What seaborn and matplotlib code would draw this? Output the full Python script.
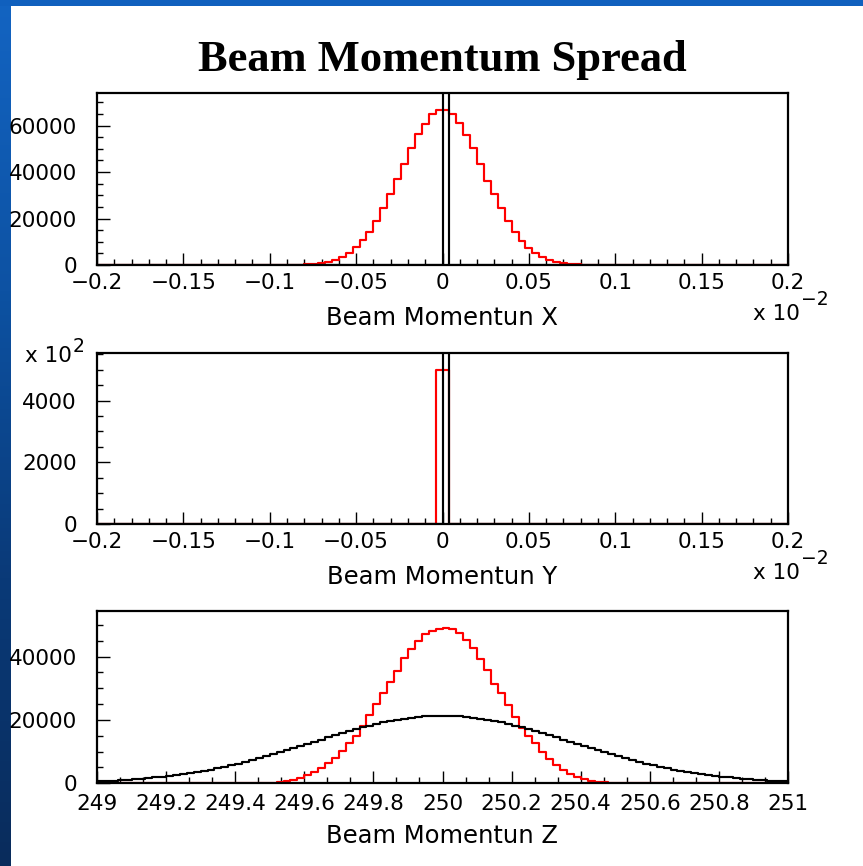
import numpy as np
import pandas as pd
import matplotlib
matplotlib.use("Agg")
import matplotlib.pyplot as plt
from matplotlib.colors import LinearSegmentedColormap
from matplotlib.patches import Rectangle
from matplotlib.ticker import FixedLocator, FuncFormatter
import seaborn as sns

sns.set_style("ticks")
plt.rcParams["font.family"] = ["DejaVu Sans"]
plt.rcParams["axes.unicode_minus"] = True
plt.rcParams["text.color"] = "black"
plt.rcParams["xtick.color"] = "black"
plt.rcParams["ytick.color"] = "black"
plt.rcParams["xtick.labelcolor"] = "black"
plt.rcParams["ytick.labelcolor"] = "black"

TITLE = "Beam Momentum Spread"

# ---- Beam momentum X (axis in units of 1e-2), 100 bins over [-0.2, 0.2] ----
px_range = (-0.2, 0.2)
px_nbins = 100
px_red_first = 28
px_red = [60, 130, 250, 430, 720, 1290, 2150, 3300, 5300, 7740, 10750,
          14340, 18920, 24370, 30390, 36990, 43590, 50180, 56200, 60650,
          64950, 66800, 66800, 64950, 60930, 55910, 50180, 43590, 36130,
          30390, 24370, 18920, 14340, 10470, 7460, 5300, 3300, 2000, 1290,
          720, 430, 250, 130, 60]
px_black_first = 50
px_black = [1000000]

# ---- Beam momentum Y (axis in units of 1e-2), 100 bins over [-0.2, 0.2] ----
py_range = (-0.2, 0.2)
py_nbins = 100
py_red_first = 49
py_red = [500000, 500000]
py_black_first = 50
py_black = [1000000]

# ---- Beam momentum Z, 100 bins over [249, 251] ----
pz_range = (249.0, 251.0)
pz_nbins = 100
pz_red_first = 22
pz_red = [30, 60, 110, 210, 420, 740, 1160, 1790, 2630, 3680, 4950, 6320,
          8100, 10210, 12630, 15050, 18210, 21580, 24950, 28420, 31890,
          35470, 39470, 42310, 45050, 47050, 48210, 48740, 49160, 48740,
          47370, 45260, 42630, 39160, 35790, 31370, 28420, 24740, 21050,
          17370, 14950, 12630, 9790, 7680, 5790, 4210, 2950, 2110, 1370,
          840, 530, 320, 210, 100, 50, 20]
pz_black_first = 0
pz_black = [670, 760, 880, 1000, 1140, 1290, 1460, 1650, 1860, 2090,
            2340, 2620, 2910, 3230, 3580, 3950, 4350, 4780, 5230, 5710,
            6220, 6750, 7310, 7890, 8490, 9110, 9750, 10410, 11070, 11750,
            12440, 13130, 13810, 14490, 15160, 15820, 16460, 17070, 17670,
            18220, 18750, 19230, 19670, 20070, 20410, 20700, 20930, 21110,
            21230, 21290, 21290, 21230, 21110, 20930, 20700, 20410, 20070,
            19670, 19230, 18750, 18220, 17670, 17070, 16460, 15820, 15160,
            14490, 13810, 13130, 12440, 11750, 11070, 10410, 9750, 9110,
            8490, 7890, 7310, 6750, 6220, 5710, 5230, 4780, 4350, 3950,
            3580, 3230, 2910, 2620, 2340, 2090, 1860, 1650, 1460, 1290,
            1140, 1000, 880, 760, 670]

x_titles = ["Beam Momentun X", "Beam Momentun Y", "Beam Momentun Z"]

W, H = 863, 866
fig = plt.figure(figsize=(W / 100, H / 100), dpi=100)
fig.patch.set_facecolor("white")


def box(left, top, right, bottom):
    return [left / W, 1 - bottom / H, (right - left) / W, (bottom - top) / H]


def fx(x):
    return x / W


def fy(y):
    return 1 - y / H


# slide frame: blue band on top, shaded blue band on the left
bar = fig.add_axes([0, 0, 10 / W, 1])
shade = LinearSegmentedColormap.from_list(
    "slide", ["#1364c2", "#0d52a3", "#0a3a78", "#092c5c"])
bar.imshow(np.linspace(0, 1, 256).reshape(-1, 1), aspect="auto", cmap=shade,
           extent=[0, 1, 0, 1], origin="upper")
bar.set_axis_off()
fig.add_artist(Rectangle((0, 1 - 6 / H), 1, 6 / H, transform=fig.transFigure,
                         facecolor="#1060be", edgecolor="none"))

fig.text(fx(442), fy(71), TITLE, ha="center", va="baseline",
         family="Liberation Serif", fontweight="bold", fontsize=32,
         color="black")


def counts(nbins, first, values):
    c = np.zeros(nbins)
    c[first:first + len(values)] = values
    return c


def draw_hist(ax, rng, nbins, first, values, color):
    width = (rng[1] - rng[0]) / nbins
    centers = rng[0] + width * (np.arange(nbins) + 0.5)
    df = pd.DataFrame({"x": centers, "n": counts(nbins, first, values)})
    sns.histplot(data=df, x="x", weights="n", bins=nbins, binrange=rng,
                 element="step", fill=False, color=color, linewidth=1.55,
                 ax=ax)


def fmt_num(v, pos):
    s = f"{round(v, 4):g}"
    if s in ("-0", "0"):
        return "0"
    return s.replace("-", "\u2212")


TICK_FS = 15.5
EXP_FS = 13.5


def style_axes(ax, xmaj, xmin, ymaj, ymin, yfmt):
    ax.set_xlabel("")
    ax.set_ylabel("")
    for sp in ax.spines.values():
        sp.set_linewidth(1.6)
        sp.set_color("black")
        sp.set_visible(True)
    ax.xaxis.set_major_locator(FixedLocator(xmaj))
    ax.xaxis.set_minor_locator(FixedLocator(xmin))
    ax.yaxis.set_major_locator(FixedLocator(ymaj))
    ax.yaxis.set_minor_locator(FixedLocator(ymin))
    ax.xaxis.set_major_formatter(FuncFormatter(fmt_num))
    ax.yaxis.set_major_formatter(FuncFormatter(yfmt))
    ax.tick_params(which="both", direction="in", top=False, right=False,
                   color="black", width=1.0, labelcolor="black")
    ax.tick_params(which="major", length=9.0)
    ax.tick_params(which="minor", length=4.6)
    ax.tick_params(axis="x", which="major", pad=5.5, labelsize=TICK_FS)
    ax.tick_params(axis="y", which="major", pad=14.5, labelsize=TICK_FS)
    ax.set_facecolor("white")


small_major = np.round(np.arange(-0.2, 0.2001, 0.05), 4)
small_minor = np.round(np.arange(-0.2, 0.2001, 0.01), 4)
z_major = np.round(np.linspace(249, 251, 11), 4)
z_minor = np.linspace(249, 251, 31)

# ---- panel X ----
ax1 = fig.add_axes(box(97, 93, 788, 265))
draw_hist(ax1, px_range, px_nbins, px_red_first, px_red, "#ff0000")
draw_hist(ax1, px_range, px_nbins, px_black_first, px_black, "black")
ax1.set_xlim(*px_range)
ax1.set_ylim(0, 74000)
style_axes(ax1, small_major, small_minor, [0, 20000, 40000, 60000],
           np.arange(0, 74000, 5000), lambda v, p: f"{v:.0f}")

# ---- panel Y ----
ax2 = fig.add_axes(box(97, 352.5, 788, 524))
draw_hist(ax2, py_range, py_nbins, py_red_first, py_red, "#ff0000")
draw_hist(ax2, py_range, py_nbins, py_black_first, py_black, "black")
ax2.set_xlim(*py_range)
ax2.set_ylim(0, 556000)
style_axes(ax2, small_major, small_minor, [0, 200000, 400000],
           np.arange(0, 556000, 50000), lambda v, p: f"{v / 100:.0f}")

# ---- panel Z ----
ax3 = fig.add_axes(box(97, 611, 788, 783.3))
draw_hist(ax3, pz_range, pz_nbins, pz_red_first, pz_red, "#ff0000")
draw_hist(ax3, pz_range, pz_nbins, pz_black_first, pz_black, "black")
ax3.set_xlim(*pz_range)
ax3.set_ylim(0, 54400)
style_axes(ax3, z_major, z_minor, [0, 20000, 40000],
           np.arange(0, 54400, 5000), lambda v, p: f"{v:.0f}")
ax3.tick_params(axis="x", which="major", pad=7.5)

# axis titles
for axis_bottom, title in zip([265, 524, 783.3], x_titles):
    fig.text(fx(442), fy(axis_bottom + 53), title, ha="center", va="center",
             fontsize=17.5, color="black")

# exponent labels of the transverse axes
for axis_bottom in [265, 524]:
    fig.text(fx(800), fy(axis_bottom + 55), "x 10", ha="right",
             va="baseline", fontsize=TICK_FS, color="black")
    fig.text(fx(801), fy(axis_bottom + 40), "\u22122", ha="left",
             va="baseline", fontsize=EXP_FS, color="black")

# count multiplier of the Y panel
fig.text(fx(72), fy(362), "x 10", ha="right", va="baseline",
         fontsize=TICK_FS, color="black")
fig.text(fx(73), fy(352), "2", ha="left", va="baseline",
         fontsize=EXP_FS, color="black")

fig.savefig("out.png", dpi=100, facecolor="white")
